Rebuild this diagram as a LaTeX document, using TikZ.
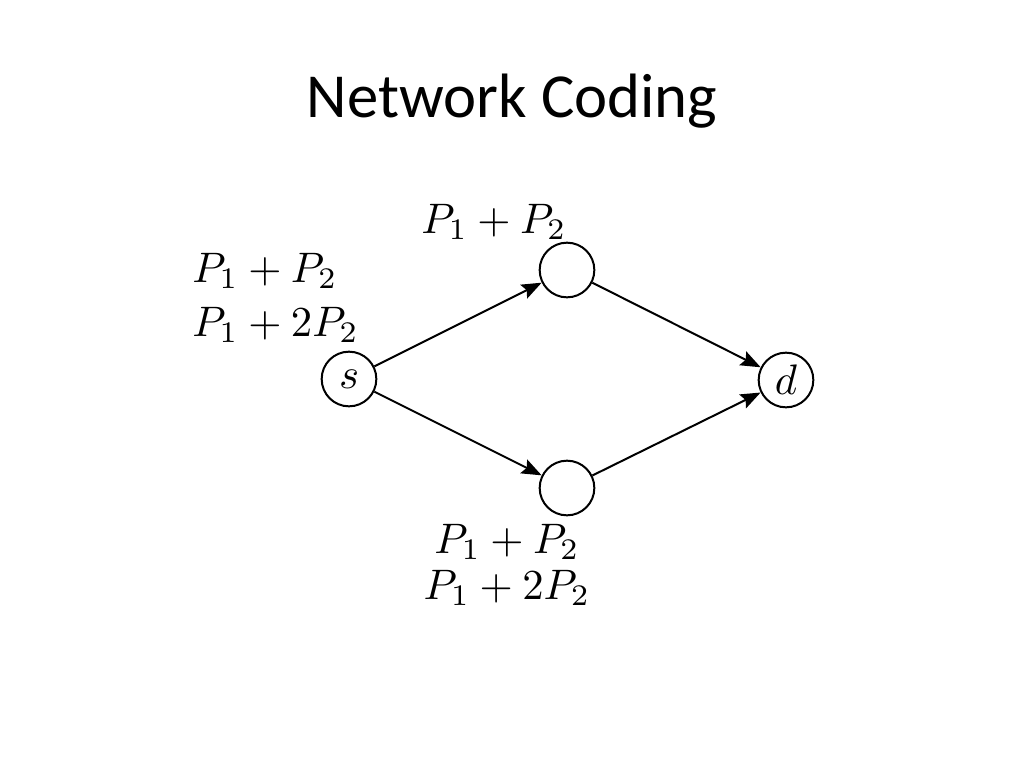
\documentclass[tikz,border=0pt]{standalone}
\usepackage{graphicx}
\usepackage[no-math]{fontspec}
\newfontfamily\slidefont{Carlito}
\usetikzlibrary{arrows.meta,positioning}
\newcommand{\pkt}[1]{\scalebox{3.2}{$#1$}}

\begin{document}
\begin{tikzpicture}[x=0.75pt,y=-0.75pt,
                     station/.style={
                                % The shape:
                                circle,minimum size=41pt,inner sep=0pt,
                                % The rest
                                draw=black,line width=1.5pt},
                     packets/.style={inner sep=0pt,font=\fontsize{10}{34.5}\selectfont},
                     flow/.style={line width=1.5pt,
                                -{Stealth[length=15pt,width=11.5pt,inset=2.5pt]}}]
 \useasboundingbox[fill=white] (0,0) rectangle (1024,768);
 \node (title) [anchor=base,font=\slidefont\fontsize{47}{56}\selectfont]
       at (512,117) {Network Coding};
 \node (s)     [station] at (349,379) {\pkt{s}};
 \node (upper) [station] at (567,270) {};
 \node (lower) [station] at (567,488) {};
 \node (d)     [station] at (786,380) {\pkt{d}};
 % what each node holds
 \node (srcpk)   [packets,align=left,anchor=base west] at (192,336)
       {\pkt{P_1+P_2}\\[6pt]\pkt{P_1+2P_2}};
 \node (upperpk) [packets,anchor=base] at (494,233) {\pkt{P_1+P_2}};
 \node (lowerpk) [packets,align=center,anchor=base] at (507,599)
       {\pkt{P_1+P_2}\\\pkt{P_1+2P_2}};
 \draw [flow] (s) -- (upper);
 \draw [flow] (s) -- (lower);
 \draw [flow] (upper) -- (d);
 \draw [flow] (lower) -- (d);
\end{tikzpicture}
\end{document}
